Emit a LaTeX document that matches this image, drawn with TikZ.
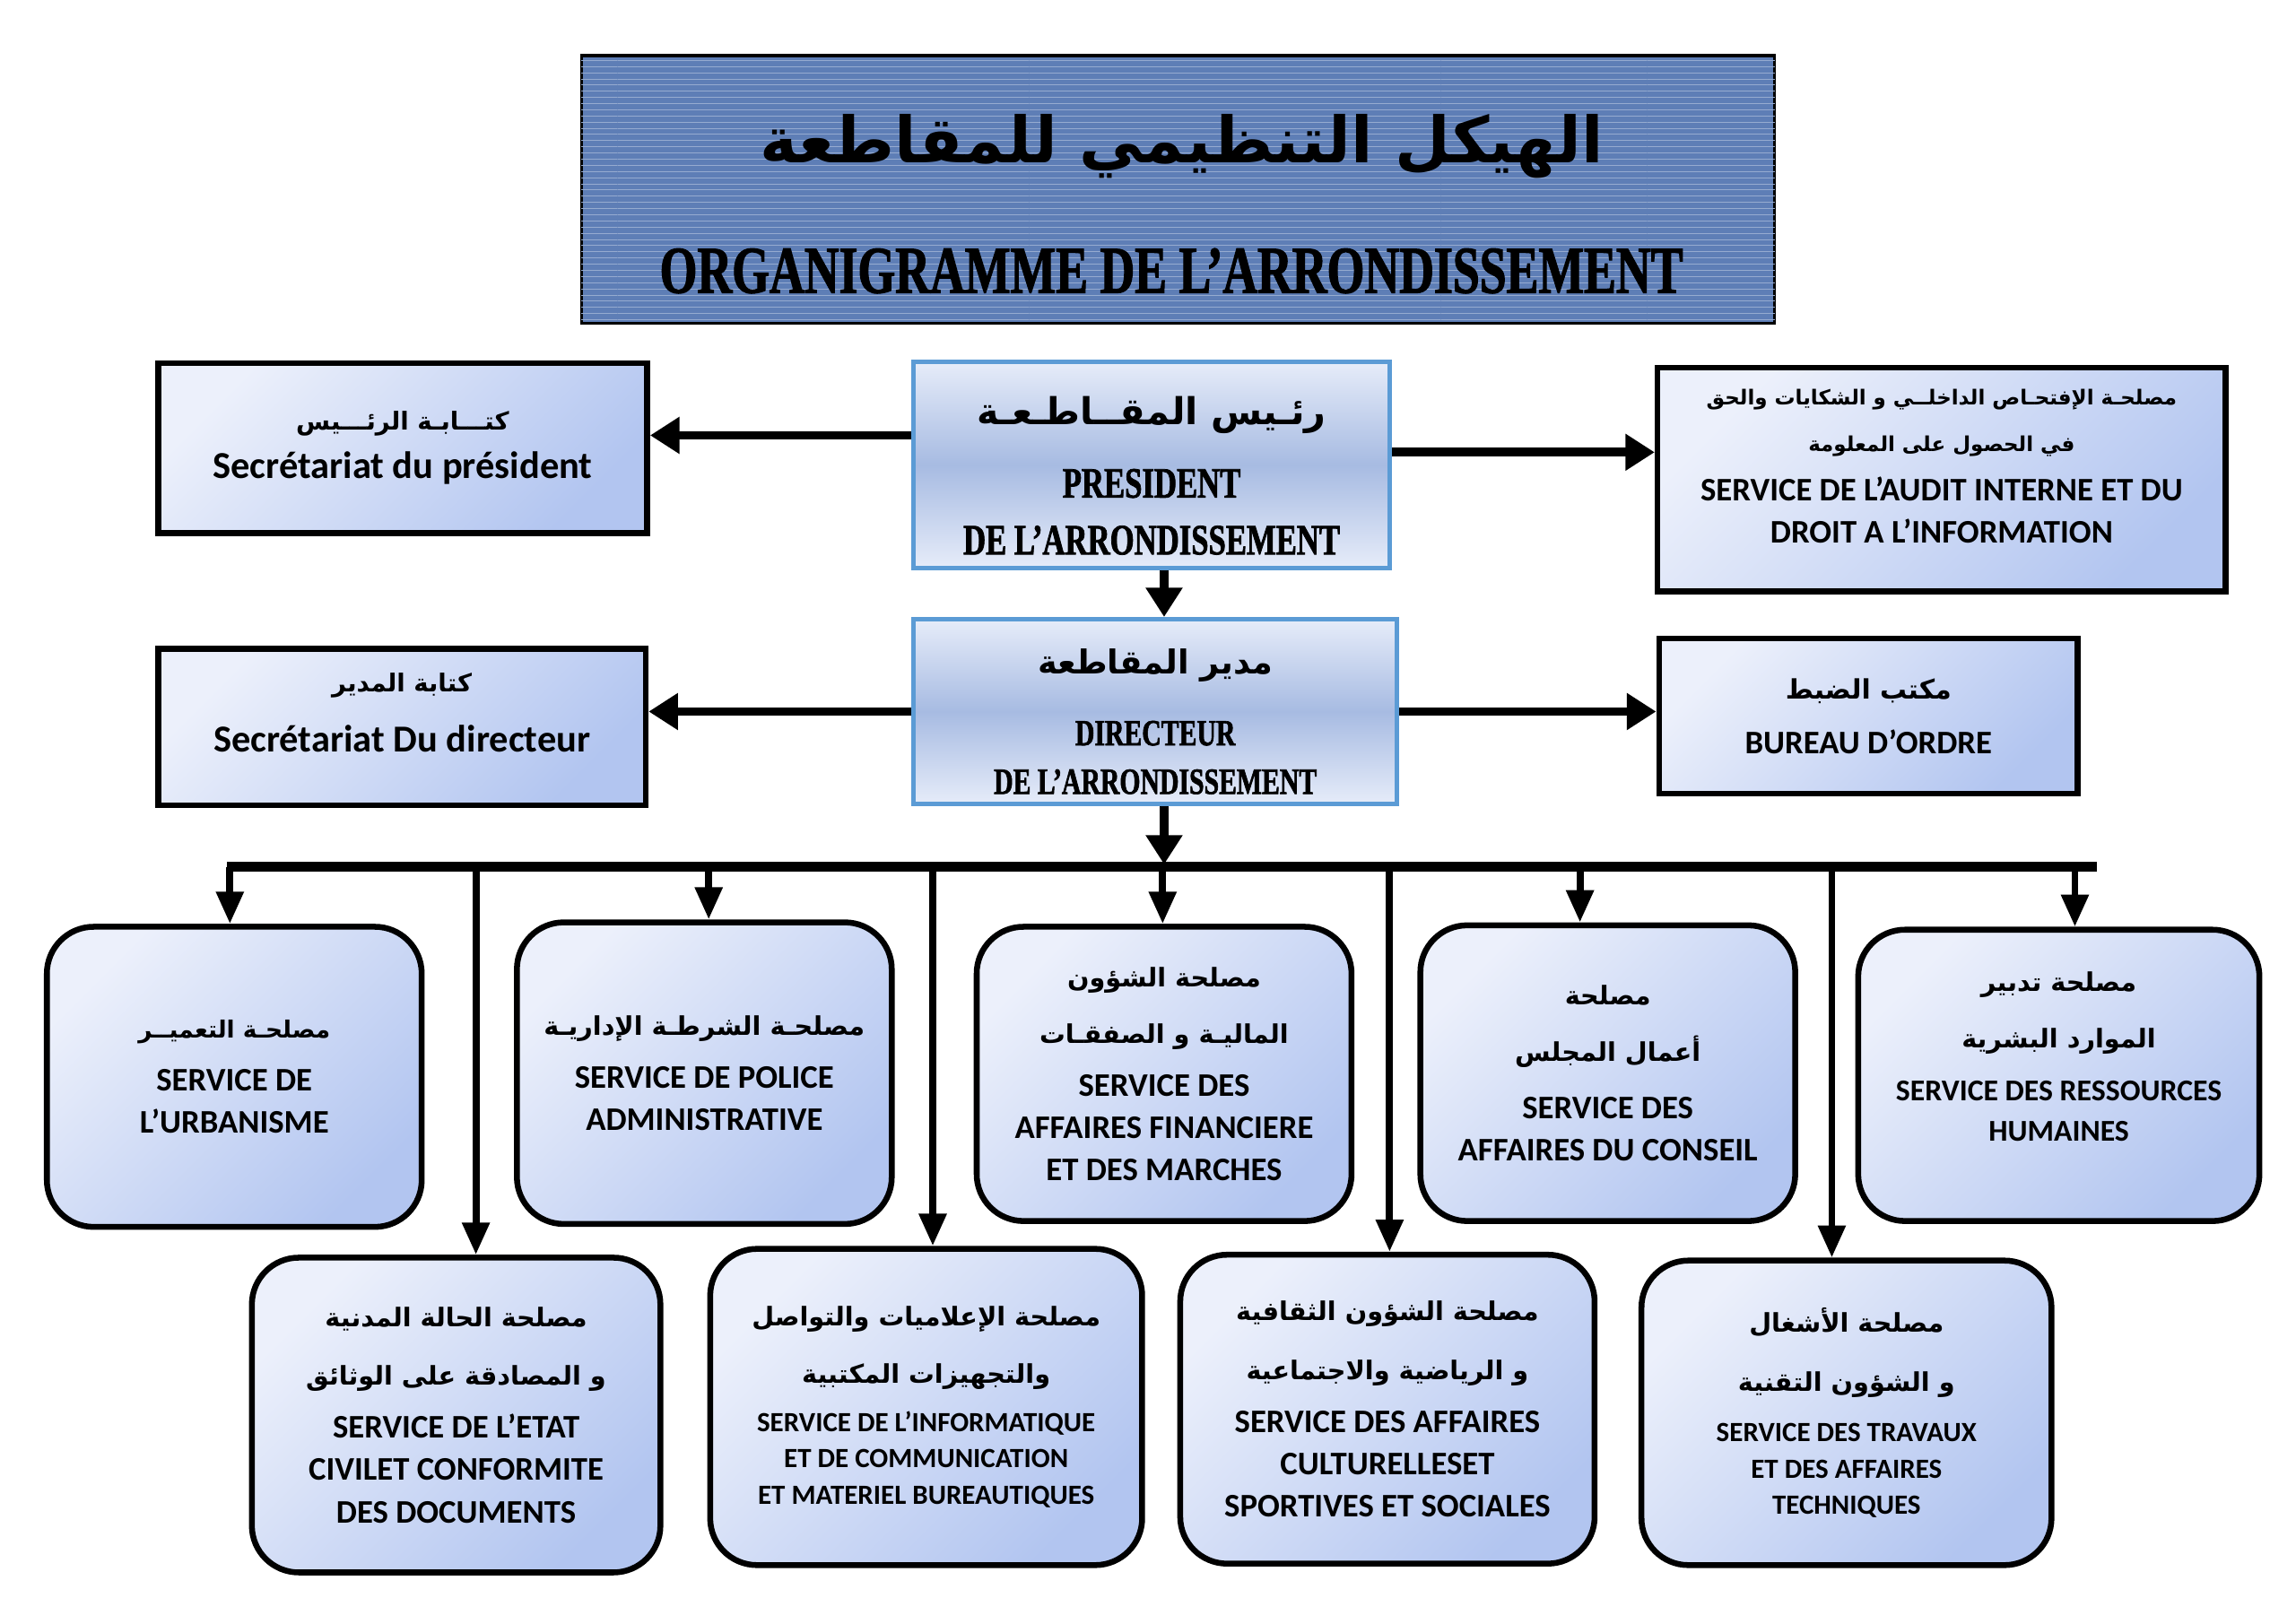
\documentclass[tikz,border=0pt]{standalone}
\usepackage{fontspec}
\setmainfont{Carlito}
\newfontfamily\arabicfont[Script=Arabic]{DejaVu Sans}
\newfontfamily\decofont[FakeStretch=0.72,FakeBold=1.5]{Liberation Serif}
\TeXXeTstate=1
\usetikzlibrary{arrows.meta,patterns}

\definecolor{boxlight}{RGB}{236,240,251}
\definecolor{boxdark}{RGB}{178,197,240}
\definecolor{headlight}{RGB}{230,236,249}
\definecolor{headmid}{RGB}{167,187,226}
\definecolor{headline}{RGB}{91,155,213}
\definecolor{titleblue}{RGB}{94,126,182}

\newcommand\artxt[2][12.5]{{\arabicfont\bfseries\fontsize{#1}{#1}\selectfont\beginR #2\endR}}
\newcommand\lat[2][16]{{\bfseries\fontsize{#1}{#1}\selectfont #2}}
\newcommand\deco[2][20]{{\decofont\bfseries\fontsize{#1}{#1}\selectfont #2}}

\tikzset{
  sz/.style 2 args={minimum width=#1*0.25mm, minimum height=#2*0.25mm},
  lift/.style={text depth=#1},
  flat/.style={draw=black, line width=1mm, top color=boxlight, bottom color=boxdark,
    shading angle=45, align=center, inner sep=0pt, font=\fontsize{16}{20.6}\selectfont},
  round/.style={flat, rounded corners=8mm},
  head/.style={draw=headline, line width=0.8mm, top color=headlight, bottom color=headlight,
    middle color=headmid, align=center, inner sep=0pt, font=\fontsize{16}{20.6}\selectfont},
  title/.style={draw=black, line width=0.5mm, fill=titleblue,
    postaction={pattern=horizontal lines, pattern color=white!35!titleblue}},
  arr/.style={line width=1.5mm, -{Triangle[length=5mm,width=6mm]}},
  drop/.style={line width=1.2mm, -{Triangle[length=5.5mm,width=4.5mm]}},
  bus/.style={line width=1.8mm},
}

\begin{document}
\begin{tikzpicture}[x=0.25mm, y=-0.25mm]
\useasboundingbox (0,0) rectangle (1568,1109);

\node[title, sz={815}{183}] (ttl) at (804.5,129.5) {};
\node[inner sep=0pt] (ttl-ar) at (807,100) {\artxt[31]{الهيكل التنظيمي للمقاطعة}};
\node[inner sep=0pt] (ttl-fr) at (800,185) {\deco[32.5]{ORGANIGRAMME DE L’ARRONDISSEMENT}};

% president level
\node[flat, sz={334}{116}] (secp) at (275,306)
  {\artxt[12]{كتـــابـة الرئـــيس}\\[3pt] \lat[18.5]{Secrétariat du président}};
\node[head, sz={325}{141}] (pres) at (786.5,317.5)
  {\rule{0pt}{24pt}\artxt[18]{رئـيس المقــاطـعـة}\\[15pt] \deco[21]{PRESIDENT}\\[7pt] \deco[21]{DE L’ARRONDISSEMENT}};
\node[flat, lift=12.8pt, sz={388}{153}] (aud) at (1326,327.5)
  {\artxt[10]{مصلحـة الإفتحـاص الداخلــي و الشكايات  والحق}\\[2pt]
   \artxt[10]{في الحصول على المعلومة}\\[3.5pt]
   \lat{SERVICE DE L’AUDIT INTERNE ET DU}\\ \lat{DROIT A L’INFORMATION}};

% director level
\node[flat, lift=14pt, sz={333}{107}] (secd) at (274.5,496.5)
  {\artxt[12]{كتابة المدير}\\[9pt] \lat[18.5]{Secrétariat Du directeur}};
\node[head, sz={330}{126}] (dir) at (789,486)
  {\rule{0pt}{22pt}\artxt[16]{مدير المقاطعة}\\[14pt] \deco[18]{DIRECTEUR}\\[3pt] \deco[18]{DE L’ARRONDISSEMENT}};
\node[flat, sz={286}{106}] (bur) at (1276,489)
  {\artxt[13]{مكتب الضبط}\\[6pt] \lat{BUREAU D’ORDRE}};

% services, first row
\node[round, sz={256}{205}] (urb) at (160,735.5)
  {\artxt[11.5]{مصلحـة التعميــر}\\[5pt] \lat{SERVICE DE}\\ \lat{L’URBANISME}};
\node[round, sz={256}{206}] (pol) at (481,733)
  {\artxt{مصلحـة الشرطـة الإداريـة}\\[5pt] \lat{SERVICE DE POLICE}\\ \lat{ADMINISTRATIVE}};
\node[round, sz={256}{201}] (fin) at (795,733.5)
  {\artxt{مصلحة الشؤون}\\[7pt] \artxt{الماليـة و الصفقـات}\\[5pt]
   \lat{SERVICE DES}\\ \lat{AFFAIRES FINANCIERE}\\ \lat{ET DES MARCHES}};
\node[round, sz={256}{202}] (cons) at (1098,733)
  {\artxt{مصلحة}\\[7pt] \artxt{أعمال المجلس}\\[7pt] \lat{SERVICE DES}\\ \lat{AFFAIRES DU CONSEIL}};
\node[round, lift=18.5pt, sz={274}{199}] (rh) at (1406,734.5)
  {\artxt{مصلحة تدبير}\\[7pt] \artxt{الموارد البشرية}\\[5pt]
   \lat[14.7]{SERVICE DES RESSOURCES}\\[-1pt] \lat[14.7]{HUMAINES}};

% services, second row
\node[round, sz={279}{215}] (etat) at (311.5,966.5)
  {\artxt{مصلحة الحالة المدنية}\\[8pt] \artxt{و المصادقة على الوثائق}\\[5pt]
   \lat{SERVICE DE L’ETAT}\\ \lat{CIVILET CONFORMITE}\\ \lat{DES DOCUMENTS}};
\node[round, sz={295}{216}] (info) at (632.5,961)
  {\artxt{مصلحة الإعلاميات والتواصل}\\[7pt] \artxt{والتجهيزات المكتبية}\\[3pt]
   \lat[13.5]{SERVICE DE L’INFORMATIQUE}\\[-3pt] \lat[13.5]{ET DE COMMUNICATION}\\[-3pt]
   \lat[13.5]{ET MATERIEL BUREAUTIQUES}};
\node[round, sz={283}{211}] (cult) at (947.5,962.5)
  {\artxt{مصلحة الشؤون الثقافية}\\[8pt] \artxt{و الرياضية والاجتماعية}\\[5pt]
   \lat{SERVICE DES AFFAIRES}\\ \lat{CULTURELLESET}\\ \lat{SPORTIVES ET SOCIALES}};
\node[round, sz={280}{208}] (trav) at (1261,965)
  {\artxt{مصلحة الأشغال}\\[8pt] \artxt{و الشؤون التقنية}\\[4pt]
   \lat[13.5]{SERVICE DES TRAVAUX}\\[-3pt] \lat[13.5]{ET DES AFFAIRES}\\[-3pt] \lat[13.5]{TECHNIQUES}};

% connectors
\coordinate (busL) at (155,592);
\coordinate (busR) at (1432,592);
\coordinate (spine) at (795,592);

\draw[arr] (pres.173) -- (pres.173 -| secp.east);
\draw[arr] (pres.3) -- (pres.3 -| aud.west);
\draw[arr] (pres.south -| spine) -- (dir.north -| spine);
\draw[arr] (dir.west) -- (dir.west -| secd.east);
\draw[arr] (dir.east) -- (dir.east -| bur.west);
\draw[arr] (dir.south -| spine) -- ([yshift=0.4mm]spine);
\draw[bus] (busL) -- (busR);

\foreach \n/\x in {urb/157,pol/484,fin/794,cons/1079,rh/1417,etat/325,info/637,cult/949,trav/1251}{
  \coordinate (d-\n) at (\x,592);
  \draw[drop] (d-\n) -- (d-\n |- \n.north);
}
\end{tikzpicture}
\end{document}
